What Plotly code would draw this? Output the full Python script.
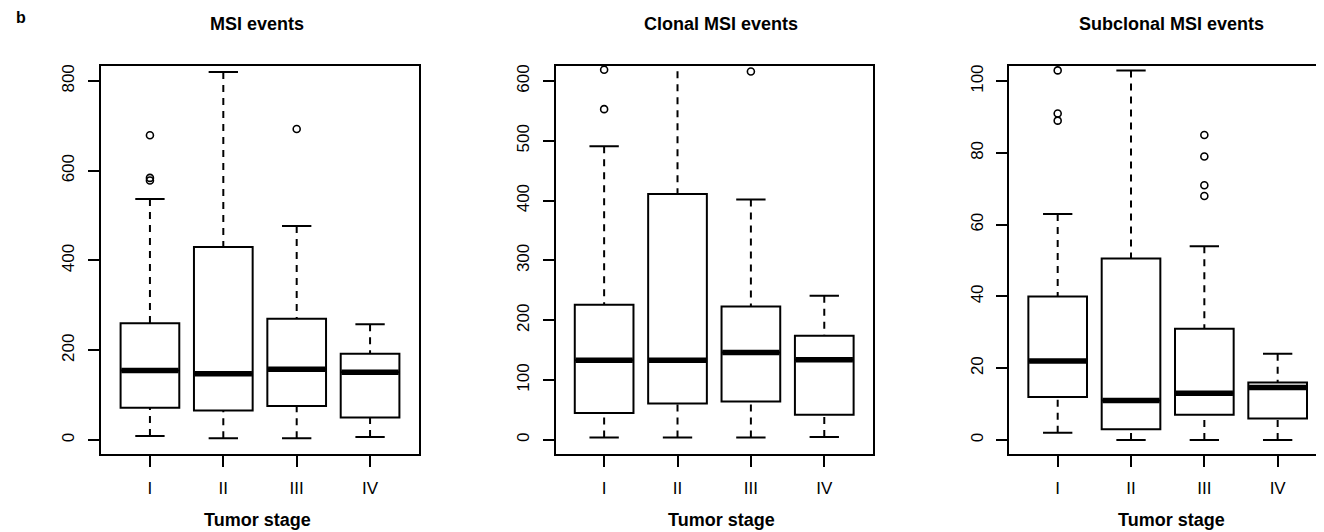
import plotly.graph_objects as go

# ---------------- data ----------------
stages = ["I", "II", "III", "IV"]
positions = [1, 2, 3, 4]

titles = ["MSI events", "Clonal MSI events", "Subclonal MSI events"]
xlabel = "Tumor stage"
panel_letter = "b"

# MSI events
msi_q1 = [72, 66, 76, 50]
msi_med = [155, 148, 158, 151]
msi_q3 = [260, 430, 270, 192]
msi_lo = [9, 4, 4, 7]
msi_hi = [537, 820, 477, 258]
msi_out_x = [1, 1, 1, 3]
msi_out_y = [578, 584, 679, 693]

# Clonal MSI events
clo_q1 = [45, 61, 64, 42]
clo_med = [133, 133, 146, 134]
clo_q3 = [226, 411, 223, 174]
clo_lo = [4, 4, 4, 5]
clo_hi = [491, 660, 402, 241]
clo_out_x = [1, 1, 3]
clo_out_y = [553, 619, 616]

# Subclonal MSI events
sub_q1 = [12, 3, 7, 6]
sub_med = [22, 11, 13, 14.6]
sub_q3 = [40, 50.6, 31, 16]
sub_lo = [2, 0, 0, 0]
sub_hi = [63, 103, 54, 24]
sub_out_x = [1, 1, 1, 3, 3, 3, 3]
sub_out_y = [89, 91, 103, 68, 71, 79, 85]

y_ticks = [[0, 200, 400, 600, 800],
           [0, 100, 200, 300, 400, 500, 600],
           [0, 20, 40, 60, 80, 100]]
y_ranges = [[-31.7, 833], [-24.1, 625], [-4.0, 104.2]]
x_ranges = [[0.333, 4.667], [0.34, 4.66], [0.34, 4.632]]

panels = [
    (msi_q1, msi_med, msi_q3, msi_lo, msi_hi, msi_out_x, msi_out_y),
    (clo_q1, clo_med, clo_q3, clo_lo, clo_hi, clo_out_x, clo_out_y),
    (sub_q1, sub_med, sub_q3, sub_lo, sub_hi, sub_out_x, sub_out_y),
]

# page has an 8px body margin, so the figure is 8px smaller on each side
W, H, OFF = 1316, 524, 8


def px_x(X):
    return (X - OFF) / W


def px_y(Y):
    return 1 - (Y - OFF) / H


x_domains = [[px_x(101), px_x(419)], [px_x(555.7), px_x(872.7)], [px_x(1009.3), 1.0]]
y_domain = [px_y(454), px_y(64.3)]

BOX_W = 0.8
CAP_W = 0.4
FONT = "Liberation Sans, Arial, Helvetica, sans-serif"

fig = go.Figure()

for i, (q1, med, q3, lo, hi, ox, oy) in enumerate(panels):
    xa = "x" if i == 0 else f"x{i+1}"
    ya = "y" if i == 0 else f"y{i+1}"

    # box bodies
    fig.add_trace(go.Box(
        x=positions, q1=q1, median=med, q3=q3,
        lowerfence=q1, upperfence=q3,
        width=BOX_W, whiskerwidth=0,
        fillcolor="white", line=dict(color="black", width=2),
        boxpoints=False, showlegend=False, xaxis=xa, yaxis=ya,
    ))

    # dashed whiskers (from whisker end to box edge, like R's bxp)
    wx, wy = [], []
    for p, a, b, c, d in zip(positions, lo, q1, q3, hi):
        wx += [p, p, None, p, p, None]
        wy += [a, b, None, d, c, None]
    fig.add_trace(go.Scatter(
        x=wx, y=wy, mode="lines",
        line=dict(color="black", width=2, dash="7px,6px"),
        showlegend=False, hoverinfo="skip", xaxis=xa, yaxis=ya,
    ))

    # whisker caps
    cx, cy = [], []
    for p, a, d in zip(positions, lo, hi):
        cx += [p - CAP_W / 2, p + CAP_W / 2, None, p - CAP_W / 2, p + CAP_W / 2, None]
        cy += [a, a, None, d, d, None]
    fig.add_trace(go.Scatter(
        x=cx, y=cy, mode="lines",
        line=dict(color="black", width=2),
        showlegend=False, hoverinfo="skip", xaxis=xa, yaxis=ya,
    ))

    # thick medians
    mx, my = [], []
    for p, m in zip(positions, med):
        mx += [p - BOX_W / 2 + 0.01, p + BOX_W / 2 - 0.01, None]
        my += [m, m, None]
    fig.add_trace(go.Scatter(
        x=mx, y=my, mode="lines",
        line=dict(color="black", width=5.5),
        showlegend=False, hoverinfo="skip", xaxis=xa, yaxis=ya,
    ))

    # outliers
    fig.add_trace(go.Scatter(
        x=ox, y=oy, mode="markers",
        marker=dict(symbol="circle-open", size=7, color="black",
                    line=dict(width=1.6, color="black")),
        showlegend=False, xaxis=xa, yaxis=ya,
    ))

layout = dict(
    width=W, height=H,
    margin=dict(l=0, r=0, t=0, b=0),
    paper_bgcolor="white", plot_bgcolor="white",
    font=dict(family=FONT, color="black", size=16),
)

for i in range(3):
    xk = "xaxis" if i == 0 else f"xaxis{i+1}"
    yk = "yaxis" if i == 0 else f"yaxis{i+1}"
    ya = "y" if i == 0 else f"y{i+1}"
    xa = "x" if i == 0 else f"x{i+1}"
    layout[xk] = dict(
        domain=x_domains[i], range=x_ranges[i], anchor=ya,
        tickmode="array", tickvals=positions, ticktext=stages,
        ticks="outside", ticklen=11, tickwidth=2, tickcolor="black",
        ticklabelstandoff=6,
        showline=True, linewidth=2, linecolor="black", mirror=True,
        showgrid=False, zeroline=False, fixedrange=True,
        tickfont=dict(size=17),
    )
    layout[yk] = dict(
        domain=y_domain, range=y_ranges[i], anchor=xa,
        tickmode="array", tickvals=y_ticks[i],
        ticks="outside", ticklen=11, tickwidth=2, tickcolor="black",
        tickangle=-90, ticklabelstandoff=7,
        showline=True, linewidth=2, linecolor="black", mirror=(i < 2),
        showgrid=False, zeroline=False, fixedrange=True,
        tickfont=dict(size=17),
    )

fig.update_layout(**layout)

title_centers = [257, 721, 1171]
for cx, t in zip(title_centers, titles):
    fig.add_annotation(text=f"<b>{t}</b>", xref="paper", yref="paper",
                       x=px_x(cx), y=px_y(22), xanchor="center", yanchor="middle",
                       showarrow=False, font=dict(size=18, family=FONT))
    fig.add_annotation(text=f"<b>{xlabel}</b>", xref="paper", yref="paper",
                       x=px_x(cx), y=px_y(520), xanchor="center", yanchor="middle",
                       showarrow=False, font=dict(size=18, family=FONT))

fig.add_annotation(text=f"<b>{panel_letter}</b>", xref="paper", yref="paper",
                   x=px_x(21), y=px_y(16), xanchor="center", yanchor="middle",
                   showarrow=False, font=dict(size=16, family=FONT))

fig.write_html("out.html")
